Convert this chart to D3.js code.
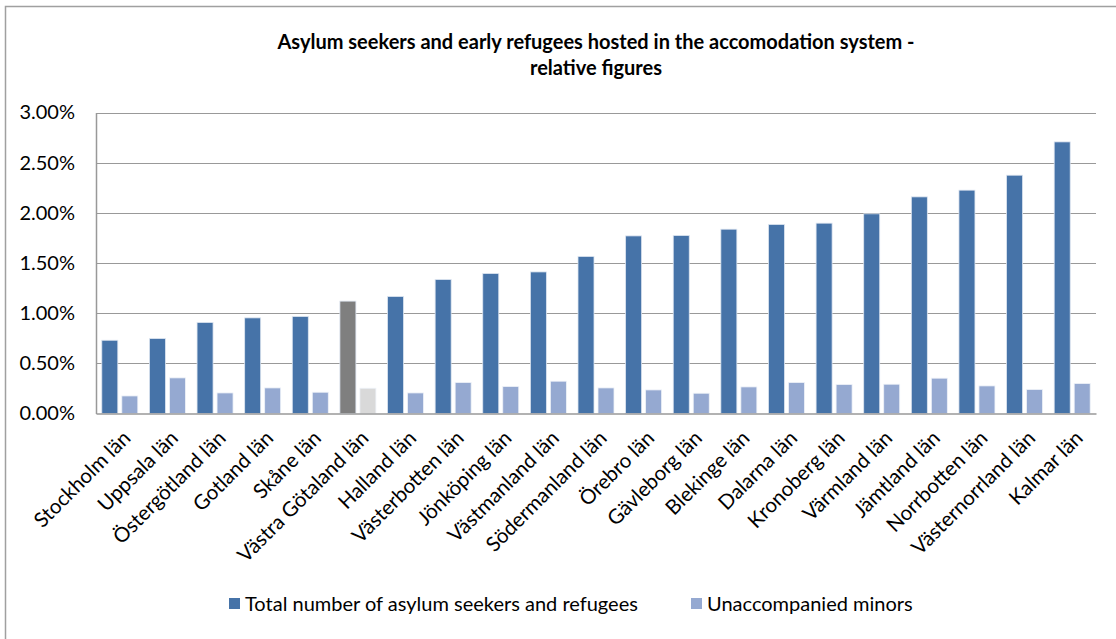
<!DOCTYPE html>
<html>
<head>
<meta charset="utf-8">
<script src="https://cdn.jsdelivr.net/npm/d3@7"></script>
<style>
  body { margin: 0; background: #fff; }
  svg { display: block; font-family: Lato, "Open Sans", sans-serif; }
</style>
</head>
<body>
<svg width="1116" height="639"></svg>
<script>
var counties = ["Stockholm län", "Uppsala län", "Östergötland län", "Gotland län", "Skåne län",
  "Västra Götaland län", "Halland län", "Västerbotten län", "Jönköping län", "Västmanland län",
  "Södermanland län", "Örebro län", "Gävleborg län", "Blekinge län", "Dalarna län",
  "Kronoberg län", "Värmland län", "Jämtland län", "Norrbotten län", "Västernorrland län", "Kalmar län"];
var totalShare = [0.73, 0.747, 0.907, 0.953, 0.967, 1.12, 1.166, 1.335, 1.395, 1.411,
  1.565, 1.77, 1.774, 1.837, 1.884, 1.897, 1.99, 2.159, 2.226, 2.375, 2.707];
var minorShare = [0.175, 0.355, 0.205, 0.255, 0.212, 0.252, 0.205, 0.309, 0.269, 0.322,
  0.255, 0.235, 0.202, 0.265, 0.309, 0.289, 0.292, 0.352, 0.275, 0.239, 0.299];
var yTicks = [0, 0.5, 1, 1.5, 2, 2.5, 3];
var seriesNames = ["Total number of asylum seekers and refugees", "Unaccompanied minors"];
var highlight = "Västra Götaland län";

var svg = d3.select("svg");
// plot area (don't use "top" as a global, it clashes with window.top)
var plotLeft = 96, plotRight = 1096, plotTop = 112.5, plotBottom = 413.5;

// chart frame
svg.append("rect")
  .attr("x", 5.5).attr("y", 6.5)
  .attr("width", 1200).attr("height", 700)
  .attr("fill", "none").attr("stroke", "#a0a0a0").attr("stroke-width", 1.5);

// title
var title = svg.append("text")
  .attr("text-anchor", "middle")
  .style("font-weight", "bold").style("font-size", "20px").style("fill", "#000");
title.append("tspan").attr("x", 596).attr("y", 49)
  .text("Asylum seekers and early refugees hosted in the accomodation system -");
title.append("tspan").attr("x", 596).attr("y", 75).text("relative figures");

var x = d3.scaleBand().domain(counties).range([plotLeft, plotRight]);
var y = d3.scaleLinear().domain([0, 3]).range([plotBottom, plotTop]);

// gridlines
svg.append("g").selectAll("line").data(yTicks.slice(1)).join("line")
  .attr("x1", plotLeft).attr("x2", plotRight)
  .attr("y1", function(d) { return Math.round(y(d)) + 0.5; })
  .attr("y2", function(d) { return Math.round(y(d)) + 0.5; })
  .attr("stroke", "#999").attr("stroke-width", 1.2);

// y axis
var yAxis = svg.append("g")
  .attr("transform", "translate(" + plotLeft + ",0)")
  .call(d3.axisLeft(y).tickValues(yTicks).tickSize(0).tickPadding(21)
    .tickFormat(function(d) { return d.toFixed(2) + "%"; }));
yAxis.select(".domain").attr("stroke", "#999").attr("stroke-width", 1.5);
yAxis.selectAll("text").style("font-size", "20px").style("fill", "#000")
  .style("font-family", "Lato, sans-serif");

// bars
var bw = 16, gap = 4;
var off = (x.bandwidth() - 2 * bw - gap) / 2;
var barsG = svg.append("g");
barsG.selectAll("rect.total").data(counties).join("rect")
  .attr("class", "total")
  .attr("x", function(d) { return x(d) + off; })
  .attr("y", function(d, i) { return y(totalShare[i]); })
  .attr("width", bw)
  .attr("height", function(d, i) { return y(0) - y(totalShare[i]); })
  .attr("fill", function(d) { return d === highlight ? "#7f7f7f" : "#4673a8"; })
  .attr("stroke", "#dde5f0").attr("stroke-width", 0.8);
barsG.selectAll("rect.minor").data(counties).join("rect")
  .attr("class", "minor")
  .attr("x", function(d) { return x(d) + off + bw + gap; })
  .attr("y", function(d, i) { return y(minorShare[i]); })
  .attr("width", bw)
  .attr("height", function(d, i) { return y(0) - y(minorShare[i]); })
  .attr("fill", function(d) { return d === highlight ? "#d9d9d9" : "#95a9d1"; })
  .attr("stroke", "#eef2f8").attr("stroke-width", 0.8);

// x axis
var xAxis = svg.append("g")
  .attr("transform", "translate(0," + plotBottom + ")")
  .call(d3.axisBottom(x).tickSize(0).tickPadding(0));
xAxis.select(".domain").attr("stroke", "#999").attr("stroke-width", 1.5);
xAxis.selectAll("text")
  .style("font-size", "20.5px").style("fill", "#000").style("font-family", "Lato, sans-serif")
  .attr("text-anchor", "end")
  .attr("dy", 0).attr("y", 0)
  .attr("transform", "translate(12,26) rotate(-45)");

// legend
var legend = svg.append("g");
var legendX = [229, 691];
var legendColors = ["#4673a8", "#95a9d1"];
seriesNames.forEach(function(name, i) {
  legend.append("rect")
    .attr("x", legendX[i]).attr("y", 598)
    .attr("width", 11).attr("height", 11)
    .attr("fill", legendColors[i]);
  legend.append("text")
    .attr("x", legendX[i] + 16).attr("y", 611)
    .style("font-size", "20px").style("fill", "#000")
    .text(name);
});
</script>
</body>
</html>
